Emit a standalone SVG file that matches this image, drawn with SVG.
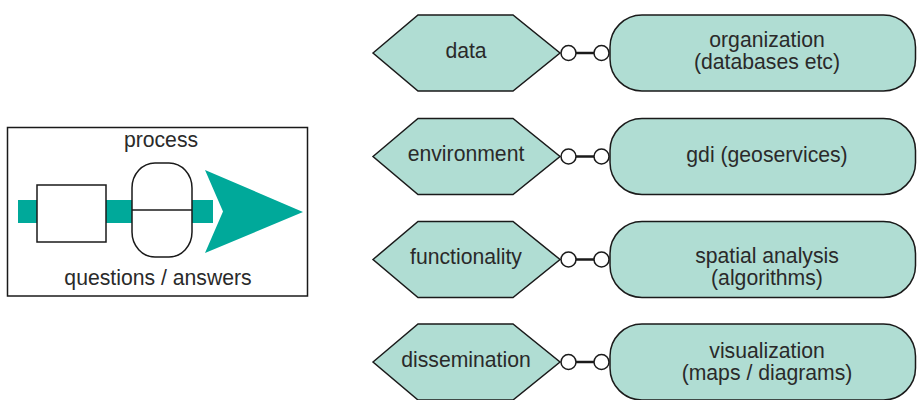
<svg xmlns="http://www.w3.org/2000/svg" width="917" height="400" viewBox="0 0 917 400">
  <style>
    .lbl { font-family: "Liberation Sans", Arial, sans-serif; font-size: 21.2px; fill: #2a2a2a; text-anchor: middle; }
    .hex, .pill { fill: #b0ddd3; stroke: #1a1a1a; stroke-width: 1.5; }
    .frame { fill: #ffffff; stroke: #1a1a1a; stroke-width: 1.5; }
    .shape { fill: #ffffff; stroke: #1a1a1a; stroke-width: 1.5; }
    .flow { fill: #00a99a; }
    .joint { fill: #ffffff; stroke: #1a1a1a; stroke-width: 1.5; }
    .link { stroke: #1a1a1a; stroke-width: 2.5; }
  </style>
  <defs>
    <polygon id="hexShape" class="hex" points="373,0 418,-38 513,-38 560,0 513,38 418,38"/>
    <rect id="pillShape" class="pill" x="610" y="-38" width="305.5" height="76" rx="32" ry="32"/>
  </defs>

  <!-- process panel -->
  <g id="process">
    <rect class="frame" x="7.5" y="127.5" width="300" height="168.5"/>
    <rect class="flow" x="18" y="200" width="195" height="23"/>
    <polygon class="flow" points="205,170 303,212 205,253 223,211.5"/>
    <rect class="shape" x="37" y="185" width="69" height="57"/>
    <rect class="shape" x="132" y="163" width="60" height="94" rx="23" ry="25"/>
    <line x1="132" y1="210" x2="192" y2="210" stroke="#1a1a1a" stroke-width="1.5"/>
    <text class="lbl" x="161" y="147">process</text>
    <text class="lbl" x="158" y="285">questions / answers</text>
  </g>

  <!-- category hexagons -->
  <g id="data" transform="translate(0,53)">
    <use href="#hexShape"/>
    <text class="lbl" x="466" y="5">data</text>
  </g>
  <g id="environment" transform="translate(0,156.5)">
    <use href="#hexShape"/>
    <text class="lbl" x="466" y="4">environment</text>
  </g>
  <g id="functionality" transform="translate(0,259.5)">
    <use href="#hexShape"/>
    <text class="lbl" x="466" y="4">functionality</text>
  </g>
  <g id="dissemination" transform="translate(0,362)">
    <use href="#hexShape"/>
    <text class="lbl" x="466" y="5">dissemination</text>
  </g>

  <!-- implementation pills -->
  <g id="organization" transform="translate(0,53)">
    <use href="#pillShape"/>
    <text class="lbl" x="767" y="-6.5">organization</text>
    <text class="lbl" x="767" y="15.5">(databases etc)</text>
  </g>
  <g id="gdi" transform="translate(0,156.5)">
    <use href="#pillShape"/>
    <text class="lbl" x="767" y="5">gdi (geoservices)</text>
  </g>
  <g id="spatial-analysis" transform="translate(0,259.5)">
    <use href="#pillShape"/>
    <text class="lbl" x="767" y="3.5">spatial analysis</text>
    <text class="lbl" x="767" y="25.5">(algorithms)</text>
  </g>
  <g id="visualization" transform="translate(0,362)">
    <use href="#pillShape"/>
    <text class="lbl" x="767" y="-4.5">visualization</text>
    <text class="lbl" x="767" y="17.5">(maps / diagrams)</text>
  </g>

  <!-- ball-and-socket connectors -->
  <g id="connectors">
    <g transform="translate(0,53)">
      <line class="link" x1="576" y1="0" x2="594" y2="0"/>
      <circle class="joint" cx="568.5" cy="0" r="7.5"/>
      <circle class="joint" cx="601.5" cy="0" r="7.5"/>
    </g>
    <g transform="translate(0,156.5)">
      <line class="link" x1="576" y1="0" x2="594" y2="0"/>
      <circle class="joint" cx="568.5" cy="0" r="7.5"/>
      <circle class="joint" cx="601.5" cy="0" r="7.5"/>
    </g>
    <g transform="translate(0,259.5)">
      <line class="link" x1="576" y1="0" x2="594" y2="0"/>
      <circle class="joint" cx="568.5" cy="0" r="7.5"/>
      <circle class="joint" cx="601.5" cy="0" r="7.5"/>
    </g>
    <g transform="translate(0,362)">
      <line class="link" x1="576" y1="0" x2="594" y2="0"/>
      <circle class="joint" cx="568.5" cy="0" r="7.5"/>
      <circle class="joint" cx="601.5" cy="0" r="7.5"/>
    </g>
  </g>
</svg>
